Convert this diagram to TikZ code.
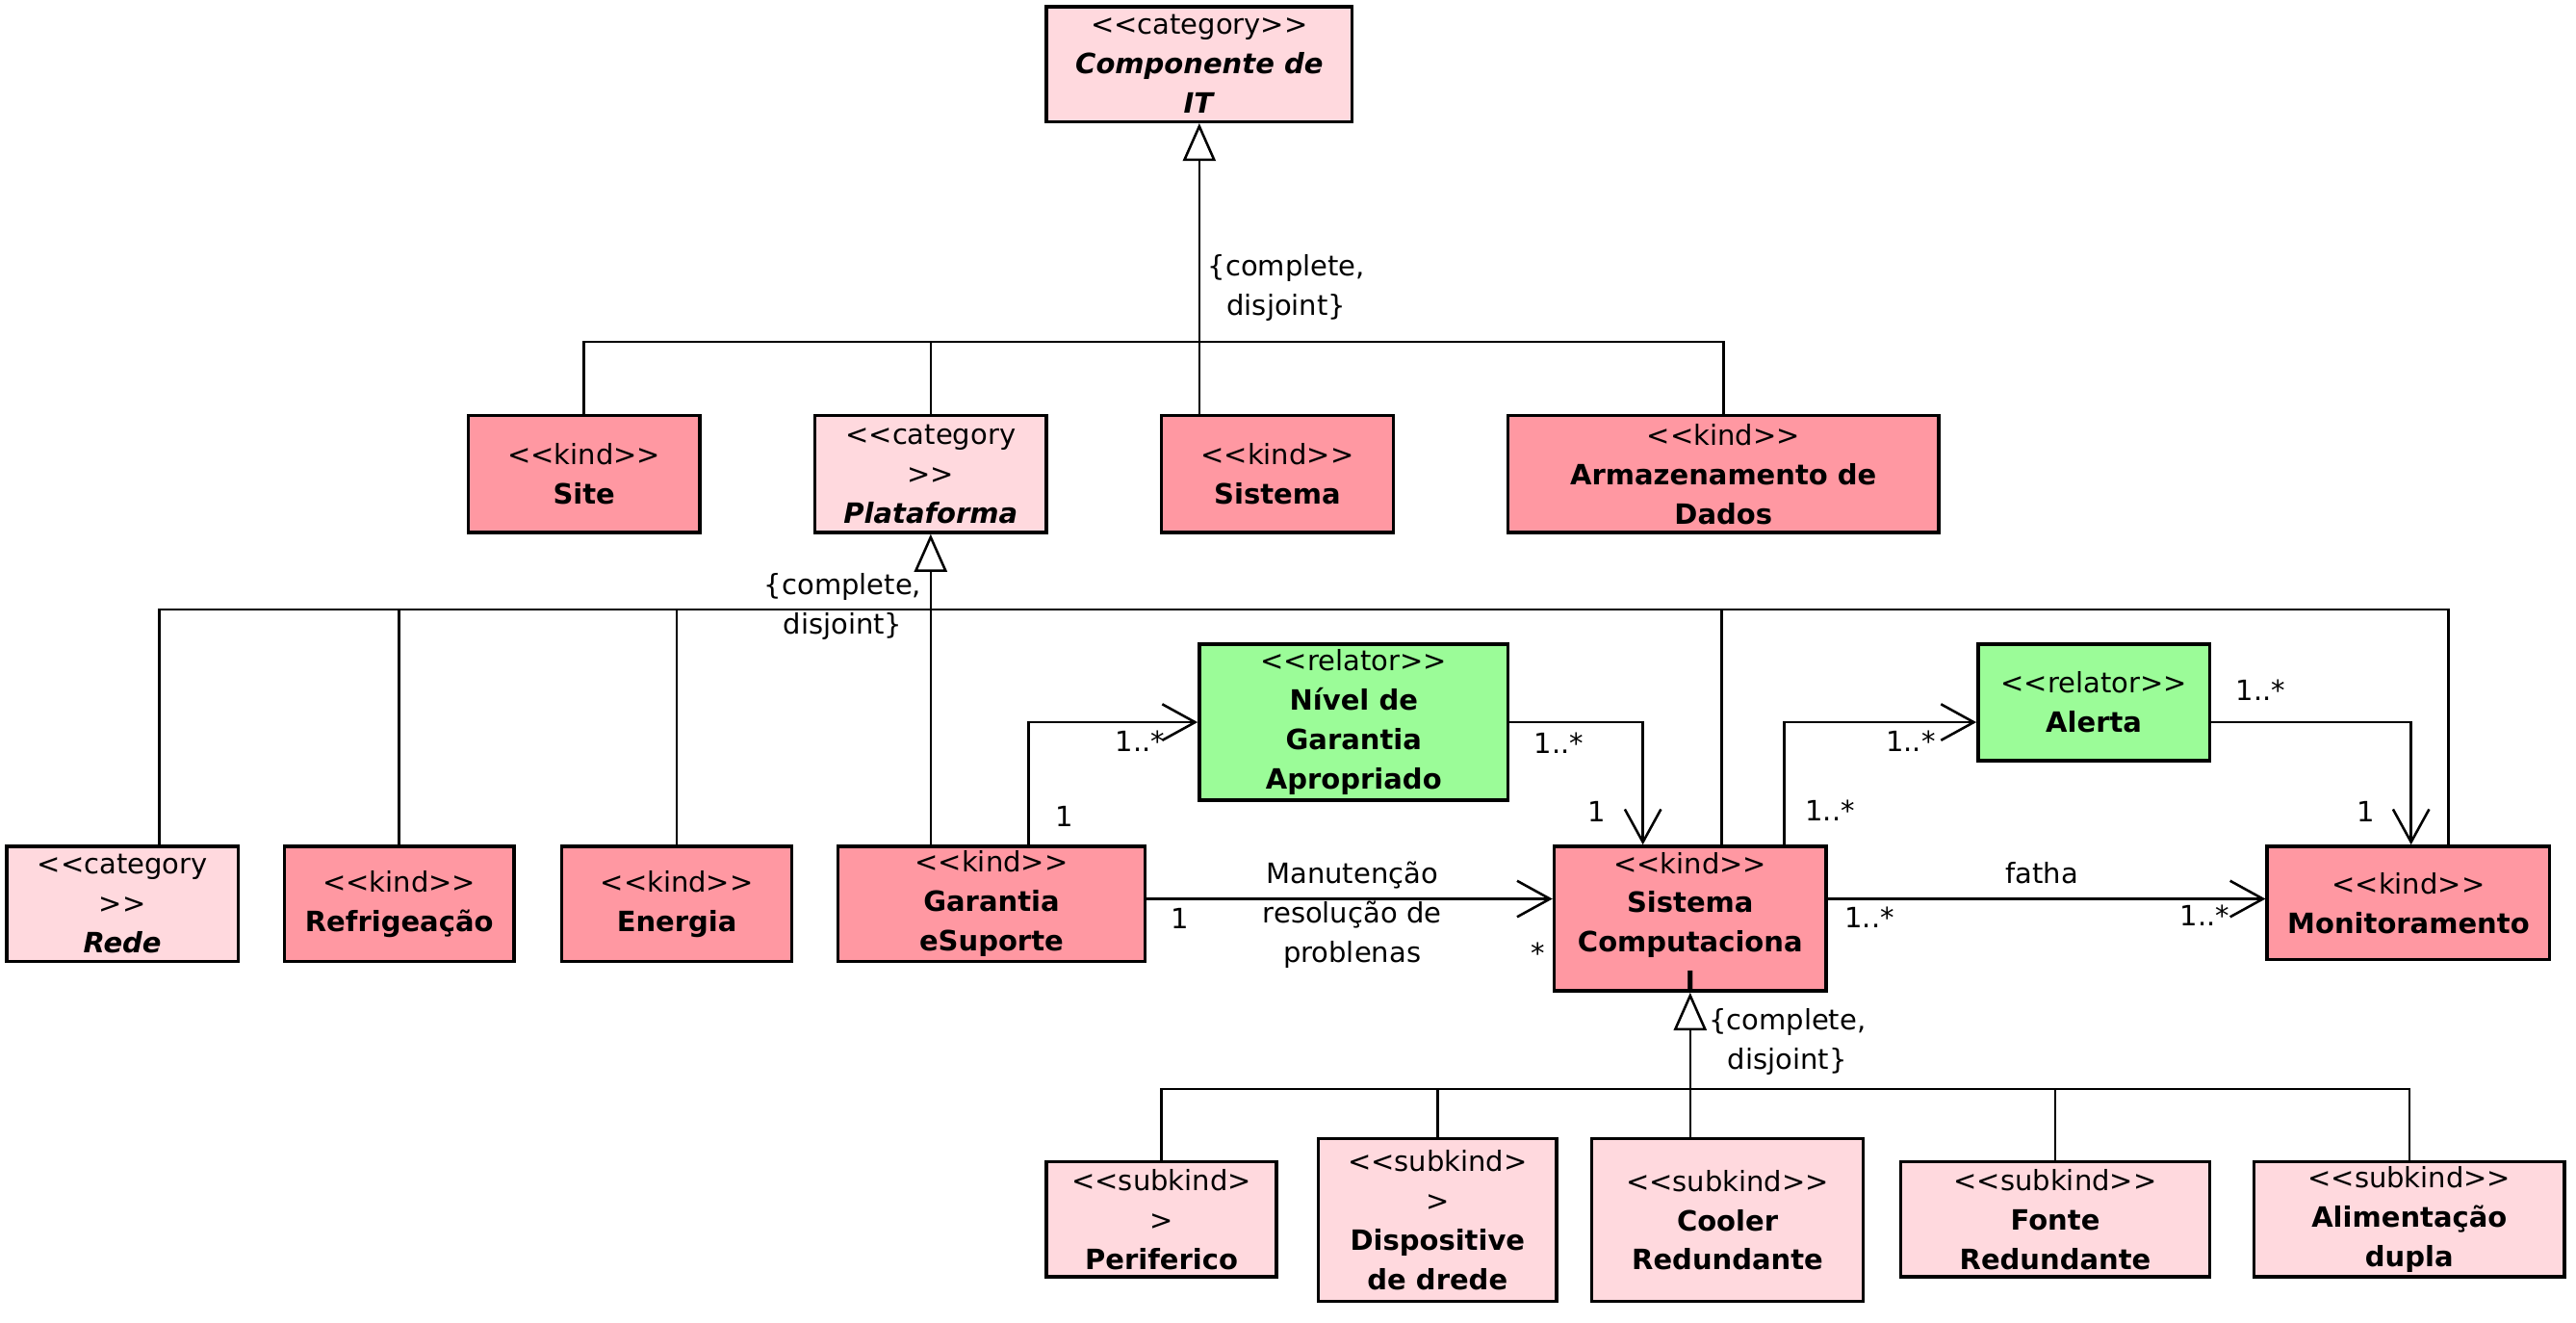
\documentclass[tikz,border=0pt]{standalone}
\usepackage{fontspec}
\setmainfont{DejaVu Sans}[Ligatures=TeXOff]
\usetikzlibrary{arrows.meta}
\newcommand\boxfont{\fontsize{17}{24}\selectfont}
\definecolor{kindpink}{RGB}{255,152,162}
\definecolor{lightpink}{RGB}{255,217,222}
\definecolor{relgreen}{RGB}{155,252,152}
\begin{document}
\begin{tikzpicture}[x=1pt,y=-1pt,
  box/.style={draw, line width=2pt, inner sep=0pt, align=center, font=\boxfont},
  kindbox/.style={box, fill=kindpink},
  catbox/.style={box, fill=lightpink},
  relbox/.style={box, fill=relgreen},
  conn/.style={line width=1.5pt},
  assoc/.style={conn, -{Straight Barb[length=20pt, width=22pt]}},
  gen/.style={conn, -{Triangle[length=23pt, width=20pt, fill=white]}},
  lbl/.style={font=\boxfont, inner sep=0pt, align=center}]
\useasboundingbox (0,0) rectangle (1568,805);

% classes
\node[catbox, minimum width=186pt, minimum height=70pt] (comp) at (730,39)
  {<<category>>\\\textbf{\textit{Componente de}}\\\textbf{\textit{IT}}};
\node[kindbox, minimum width=141pt, minimum height=71pt] (site) at (355.5,288.5)
  {<<kind>>\\\textbf{Site}};
\node[catbox, minimum width=141pt, minimum height=71pt] (plat) at (566.5,288.5)
  {<<category\\>>\\\textbf{\textit{Plataforma}}};
\node[kindbox, minimum width=141pt, minimum height=71pt] (sist) at (777.5,288.5)
  {<<kind>>\\\textbf{Sistema}};
\node[kindbox, minimum width=262pt, minimum height=71pt] (armaz) at (1049,288.5)
  {<<kind>>\\\textbf{Armazenamento de}\\\textbf{Dados}};

\node[catbox, minimum width=141pt, minimum height=70pt] (rede) at (74.5,550)
  {<<category\\>>\\\textbf{\textit{Rede}}};
\node[kindbox, minimum width=140pt, minimum height=70pt] (refri) at (243,550)
  {<<kind>>\\\textbf{Refrigeação}};
\node[kindbox, minimum width=140pt, minimum height=70pt] (energ) at (412,550)
  {<<kind>>\\\textbf{Energia}};
\node[kindbox, minimum width=187pt, minimum height=70pt] (garan) at (603.5,550)
  {<<kind>>\\\textbf{Garantia}\\\textbf{eSuporte}};
\node[relbox, minimum width=188pt, minimum height=95pt] (nivel) at (824,439.5)
  {<<relator>>\\\textbf{Nível de}\\\textbf{Garantia}\\\textbf{Apropriado}};
\node[kindbox, minimum width=165.6pt, minimum height=88pt, text depth=20pt,
  path picture={\node[font=\boxfont\bfseries, anchor=base, inner sep=0pt]
    at ([yshift=-1pt]path picture bounding box.south) {l};}] (sc) at (1028.8,559)
  {<<kind>>\\\textbf{Sistema}\\\textbf{Computaciona}};
\node[relbox, minimum width=141pt, minimum height=71pt] (alerta) at (1274.5,427.5)
  {<<relator>>\\\textbf{Alerta}};
\node[kindbox, minimum width=172pt, minimum height=69pt] (mon) at (1466,549.5)
  {<<kind>>\\\textbf{Monitoramento}};

\node[catbox, minimum width=140pt, minimum height=70pt] (peri) at (707,742)
  {<<subkind>\\>\\\textbf{Periferico}};
\node[catbox, minimum width=145pt, minimum height=99pt] (disp) at (875,742.5)
  {<<subkind>\\>\\\textbf{Dispositive}\\\textbf{de drede}};
\node[catbox, minimum width=165pt, minimum height=99pt] (cooler) at (1051.5,742.5)
  {<<subkind>>\\\textbf{Cooler}\\\textbf{Redundante}};
\node[catbox, minimum width=188pt, minimum height=70pt] (fonte) at (1251,742)
  {<<subkind>>\\\textbf{Fonte}\\\textbf{Redundante}};
\node[catbox, minimum width=189pt, minimum height=70pt] (alim) at (1466.5,742)
  {<<subkind>>\\\textbf{Alimentação}\\\textbf{dupla}};

% generalization sets
\coordinate (bar1) at (0,208);
\coordinate (bar2) at (0,371);
\coordinate (bar3) at (0,662.7);

\draw[conn] (site.north) |- (armaz.north |- bar1) -- (armaz.north);
\draw[conn] (plat.north) -- (plat.north |- bar1);
\draw[gen] (sist.north -| comp.south) -- (comp.south);
\node[lbl] (gs1) at (783,175) {\{complete,\\disjoint\}};

\coordinate (gRede) at ([xshift=22.5pt]rede.north);
\coordinate (gSC) at ([xshift=19.2pt]sc.north);
\coordinate (gMon) at ([xshift=24.5pt]mon.north);
\coordinate (gGar) at (garan.north -| plat.south);
\draw[conn] (gRede) |- (gMon |- bar2) -- (gMon);
\draw[conn] (refri.north) -- (refri.north |- bar2);
\draw[conn] (energ.north) -- (energ.north |- bar2);
\draw[conn] (gSC) -- (gSC |- bar2);
\draw[gen] (gGar) -- (plat.south);
\node[lbl] (gs2) at (513,369) {\{complete,\\disjoint\}};

\coordinate (gCool) at (cooler.north -| sc.south);
\draw[conn] (peri.north) |- (alim.north |- bar3) -- (alim.north);
\draw[conn] (disp.north) -- (disp.north |- bar3);
\draw[conn] (fonte.north) -- (fonte.north |- bar3);
\draw[gen] (gCool) -- (sc.south);
\node[lbl] (gs3) at (1088,634) {\{complete,\\disjoint\}};

% associations
\coordinate (aGar) at ([xshift=22.5pt]garan.north);
\draw[assoc] (aGar) |- (nivel.west);
\node[lbl] (m1) at (694,451) {1..*};
\node[lbl] (m2) at (648,497) {1};

\coordinate (aSCin) at ([xshift=-28.8pt]sc.north);
\draw[assoc] (nivel.east) -| (aSCin);
\node[lbl] (m3) at (949,452) {1..*};
\node[lbl] (m4) at (972,494) {1};

\coordinate (aSCout) at ([xshift=57.2pt]sc.north);
\coordinate (aAlIn) at ([yshift=-12pt]alerta.west);
\draw[assoc] (aSCout) |- (aAlIn);
\node[lbl] (m5) at (1163,451) {1..*};
\node[lbl] (m6) at (1114,493) {1..*};

\coordinate (aAlOut) at ([yshift=-12pt]alerta.east);
\coordinate (aMonIn) at ([xshift=1.6pt]mon.north);
\draw[assoc] (aAlOut) -| (aMonIn);
\node[lbl] (m7) at (1376,420) {1..*};
\node[lbl] (m8) at (1440,494) {1};

\coordinate (aGarOut) at ([yshift=3pt]garan.east);
\draw[assoc] (aGarOut) -- (aGarOut -| sc.west);
\node[lbl] (manut) at (823,557) {Manutenção\\resolução de\\problenas};
\node[lbl] (m9) at (718,559) {1};
\node[lbl] (m10) at (936,580) {*};

\coordinate (aMonW) at ([yshift=2.5pt]mon.west);
\draw[assoc] (aMonW -| sc.east) -- (aMonW);
\node[lbl] (fatha) at (1243,531) {fatha};
\node[lbl] (m11) at (1138,558) {1..*};
\node[lbl] (m12) at (1342,557) {1..*};
\end{tikzpicture}
\end{document}
